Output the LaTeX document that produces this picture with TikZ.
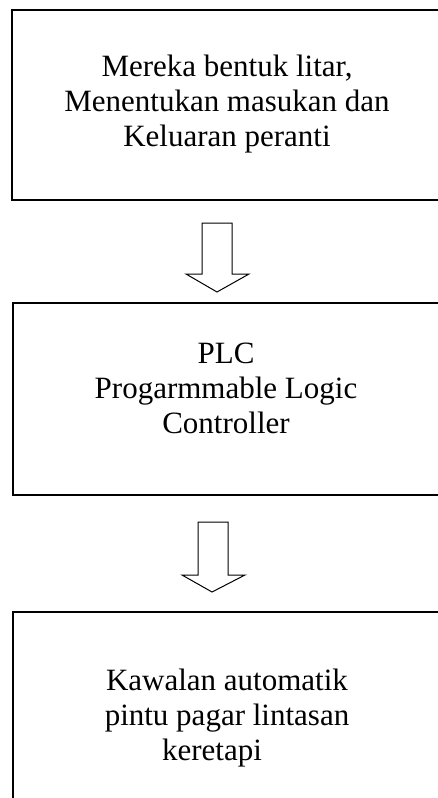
\documentclass[tikz,border=0pt]{standalone}
\usepackage{fontspec}
\setmainfont{Liberation Serif}
\usetikzlibrary{positioning}

\tikzset{
  kotak/.style={draw=black,line width=1.6pt,rectangle,inner sep=0pt},
  teks/.style={align=center,inner sep=0pt,font=\fontsize{31}{35}\selectfont},
  panah/.style={draw=black,line width=1pt,fill=white,line join=miter}
}

\begin{document}
\begin{tikzpicture}[x=1pt,y=-1pt]
  \useasboundingbox[fill=white] (0,0) rectangle (437,798);

  % Kotak atas (sisi kanan terpotong)
  \node[kotak,minimum width=458pt,minimum height=190pt] (reka) at (241,105) {};
  \node[teks] (rekateks) at (227,104)
    {Mereka bentuk litar,\\ Menentukan masukan dan\\ Keluaran peranti};

  % Panah 1
  \draw[panah] (202,223) -- (202,274) -- (186,274) -- (217,292)
    -- (249,274) -- (232,274) -- (232,223) -- cycle;

  % Kotak PLC
  \node[kotak,minimum width=457pt,minimum height=192pt] (plc) at (241.5,399) {};
  \node[teks] (plcteks) at (226,388)
    {PLC\\ Progarmmable Logic\\ Controller};

  % Panah 2
  \draw[panah] (198,522) -- (198,575) -- (182,575) -- (212,592)
    -- (245,575) -- (228,575) -- (228,522) -- cycle;

  % Kotak bawah
  \node[kotak,minimum width=457pt,minimum height=218pt] (kawal) at (241.5,721) {};
  \node[teks] (kawalteks) at (227,718)
    {Kawalan automatik\\ pintu pagar lintasan\\ \hbox{keretapi\hspace{30pt}}};
\end{tikzpicture}
\end{document}
